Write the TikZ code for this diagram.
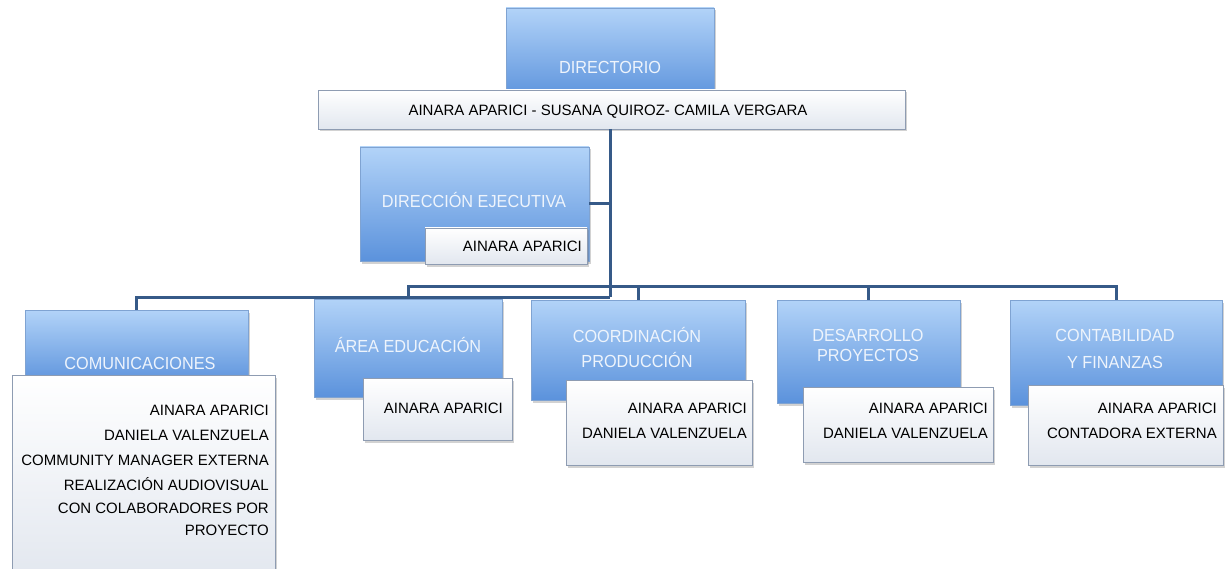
\documentclass[tikz,border=0pt]{standalone}
\usepackage{fontspec}
\setmainfont{Liberation Sans}
\newfontfamily\headfont[FakeStretch=0.93]{Liberation Sans}
\usetikzlibrary{shadows}
\definecolor{conncol}{HTML}{365A88}
\definecolor{bluetop}{HTML}{B2D3F8}
\definecolor{bluebot}{HTML}{5B92DC}
\definecolor{blueedge}{HTML}{7FA3D2}
\definecolor{whitebot}{HTML}{E2E7EF}
\definecolor{whiteedge}{HTML}{8E9CB2}
\definecolor{headcol}{HTML}{EEF4FC}
\tikzset{
  bluebox/.style={rectangle, inner sep=0pt, outer sep=0pt, top color=bluetop, bottom color=bluebot, draw=blueedge, line width=0.6pt,
    drop shadow={shadow xshift=2pt, shadow yshift=-2.5pt, opacity=0.35}},
  whitebox/.style={rectangle, inner sep=0pt, outer sep=0pt, top color=white, bottom color=whitebot, draw=whiteedge, line width=0.6pt,
    drop shadow={shadow xshift=2pt, shadow yshift=-2.5pt, opacity=0.35}},
  headtxt/.style={inner sep=0pt, text=headcol, font=\headfont\fontsize{17.5}{19}\selectfont},
  bodytxt/.style={inner sep=0pt, anchor=base east, text=black, font=\fontsize{15}{17}\selectfont},
  conn/.style={draw=conncol, line width=3pt}
}
\begin{document}
\begin{tikzpicture}[x=1pt,y=-1pt]
\useasboundingbox (0,0) rectangle (1225,569);
\fill[white] (0,0) rectangle (1225,569);

% junction coordinates
\coordinate (t) at (610,297);
\coordinate (ub) at (700,286);
\coordinate (comTop) at (136.5,310);
\coordinate (eduTop) at (408,299);
\coordinate (conTop) at (1116,300);
\coordinate (cooTop) at (638,300);
\coordinate (desTop) at (868.5,300);

% top boxes
\node[bluebox, minimum width=208pt, minimum height=92pt] (dirB) at (610,54) {};
\node[whitebox, minimum width=587pt, minimum height=39pt] (dirW) at (611.5,109.5) {};
\node[bluebox, minimum width=229pt, minimum height=114pt] (ejeB) at (474.5,204) {};

% connectors
\draw[conn] (dirW.south -| t) -- (t);
\draw[conn] (ejeB.east) -- (ejeB.east -| t);
\draw[conn] (comTop) |- (t);
\draw[conn] (eduTop) |- (ub) -| (conTop);
\draw[conn] (cooTop) -- (cooTop |- ub);
\draw[conn] (desTop) -- (desTop |- ub);

\node[whitebox, minimum width=162pt, minimum height=36pt] (ejeW) at (506,246) {};

\node[bluebox, minimum width=223pt, minimum height=75pt] (comB) at (136.5,347.5) {};
\node[whitebox, minimum width=263pt, minimum height=205pt] (comW) at (143.5,477.5) {};

\node[bluebox, minimum width=188pt, minimum height=98pt] (eduB) at (408,348) {};
\node[whitebox, minimum width=149pt, minimum height=62pt] (eduW) at (437.5,409) {};

\node[bluebox, minimum width=214pt, minimum height=100pt] (cooB) at (638,350) {};
\node[whitebox, minimum width=186pt, minimum height=85pt] (cooW) at (659,422.5) {};

\node[bluebox, minimum width=183pt, minimum height=103pt] (desB) at (868.5,351.5) {};
\node[whitebox, minimum width=190pt, minimum height=75pt] (desW) at (898,424.5) {};

\node[bluebox, minimum width=212pt, minimum height=105pt] (conB) at (1116,352.5) {};
\node[whitebox, minimum width=195pt, minimum height=80pt] (conW) at (1125.5,425) {};

% heading texts
\node[headtxt] (dirT) at (610,67) {DIRECTORIO};
\node[headtxt] (ejeT) at (474,200) {DIRECCIÓN EJECUTIVA};
\node[headtxt] (comT) at (140,363) {COMUNICACIONES};
\node[headtxt] (eduT) at (408,345) {ÁREA EDUCACIÓN};
\node[headtxt, align=center, font=\headfont\fontsize{17.5}{25}\selectfont] (cooT) at (637,347.5) {COORDINACIÓN\\PRODUCCIÓN};
\node[headtxt, align=center, font=\headfont\fontsize{17.5}{20}\selectfont] (desT) at (868,345) {DESARROLLO\\PROYECTOS};
\node[headtxt, align=center, font=\headfont\fontsize{17.5}{27}\selectfont] (conT) at (1115,348.5) {CONTABILIDAD\\Y FINANZAS};

% body texts
\node[bodytxt, anchor=base] (dirN) at (608,115.5) {AINARA APARICI - SUSANA QUIROZ- CAMILA VERGARA};
\node[bodytxt] (ejeN) at (582,251.5) {AINARA APARICI};

\node[bodytxt] (comN1) at (269,415.5) {AINARA APARICI};
\node[bodytxt] (comN2) at (269,440.5) {DANIELA VALENZUELA};
\node[bodytxt] (comN3) at (269,465.5) {COMMUNITY MANAGER EXTERNA};
\node[bodytxt] (comN4) at (269,490.5) {REALIZACIÓN AUDIOVISUAL};
\node[bodytxt] (comN5) at (269,513.5) {CON COLABORADORES POR};
\node[bodytxt] (comN6) at (269,535.5) {PROYECTO};

\node[bodytxt] (eduN) at (503,413.5) {AINARA APARICI};

\node[bodytxt] (cooN1) at (747,413.5) {AINARA APARICI};
\node[bodytxt] (cooN2) at (747,438.5) {DANIELA VALENZUELA};

\node[bodytxt] (desN1) at (988,413.5) {AINARA APARICI};
\node[bodytxt] (desN2) at (988,438.5) {DANIELA VALENZUELA};

\node[bodytxt] (conN1) at (1217,413.5) {AINARA APARICI};
\node[bodytxt] (conN2) at (1217,438.5) {CONTADORA EXTERNA};
\end{tikzpicture}
\end{document}
